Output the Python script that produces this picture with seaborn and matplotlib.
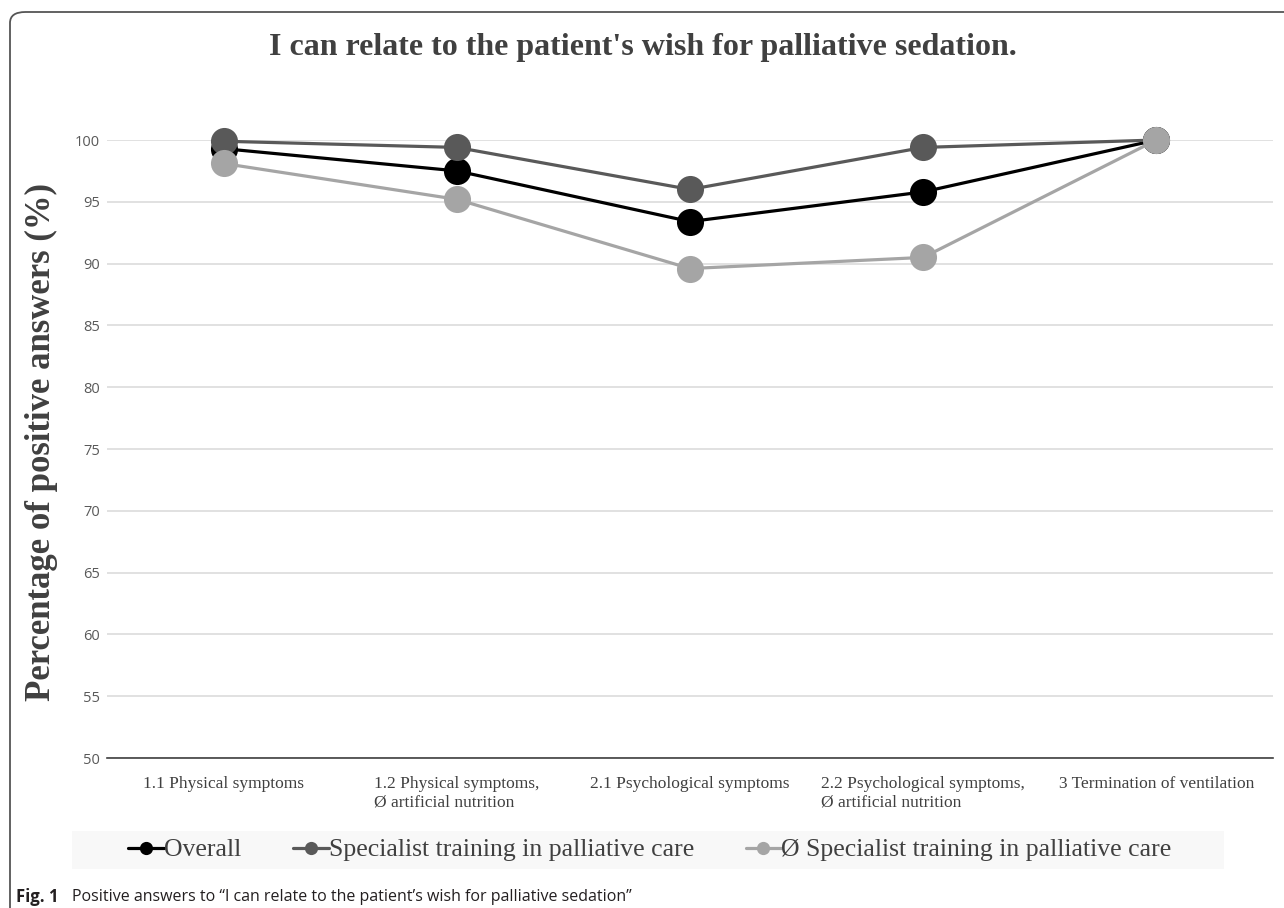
import matplotlib
matplotlib.use("Agg")
import matplotlib.pyplot as plt
import seaborn as sns
import pandas as pd
from matplotlib.lines import Line2D
from matplotlib.patches import Rectangle, FancyBboxPatch

categories = ["1.1 Physical symptoms",
              "1.2 Physical symptoms,\nØ artificial nutrition",
              "2.1 Psychological symptoms",
              "2.2 Psychological symptoms,\nØ artificial nutrition",
              "3 Termination of ventilation"]
overall = [99.3, 97.5, 93.4, 95.8, 100.0]
specialist = [99.9, 99.4, 96.0, 99.4, 100.0]
non_specialist = [98.1, 95.2, 89.6, 90.5, 100.0]
series_names = ["Overall", "Specialist training in palliative care",
                "Ø Specialist training in palliative care"]
series_colors = ["#000000", "#595959", "#a5a5a5"]
yticks = [50, 55, 60, 65, 70, 75, 80, 85, 90, 95, 100]

rows = []
for name, vals in zip(series_names, [overall, specialist, non_specialist]):
    for c, v in zip(categories, vals):
        rows.append({"category": c, "value": v, "series": name})
df = pd.DataFrame(rows)

sns.set_theme(style="white")
W, H = 1284, 908
fig = plt.figure(figsize=(W / 100, H / 100), dpi=100)
ax = fig.add_axes([107 / W, 1 - 758 / H, (1273 - 107) / W, (758 - 140) / H])

sns.lineplot(data=df, x="category", y="value", hue="series",
             hue_order=series_names, palette=series_colors, sort=False,
             marker="o", markersize=19.5, markeredgewidth=0, linewidth=2.3,
             legend=False, ax=ax, clip_on=False)

ax.set_xlim(-0.5, len(categories) - 0.5)
ax.set_ylim(50, 100)
ax.set_yticks(yticks)
ax.yaxis.grid(True, color="#d9d9d9", linewidth=1.1)
ax.xaxis.grid(False)
for s in ["top", "right", "left"]:
    ax.spines[s].set_visible(False)
ax.spines["bottom"].set_color("#404040")
ax.spines["bottom"].set_linewidth(1.2)
ax.set_xlabel("")
ax.set_ylabel("Percentage of positive answers (%)", family="Liberation Serif",
              fontweight="bold", fontsize=25, color="#404040")
ax.yaxis.set_label_coords((58 - 107) / (1273 - 107), (758 - 442) / (758 - 140))
ax.tick_params(axis="y", length=0, pad=5, labelsize=10.5, labelcolor="#595959")
for lab in ax.get_yticklabels():
    lab.set_family("Open Sans")
ax.set_xticks(range(len(categories)))
ax.set_xticklabels(categories, family="Liberation Serif", fontsize=12.5,
                   color="#404040", multialignment="left")
ax.tick_params(axis="x", which="major", length=0, pad=13)
ax.set_xticks([i - 0.5 for i in range(len(categories) + 1)], minor=True)
ax.tick_params(axis="x", which="minor", length=6, width=1.1, color="#404040",
               direction="out")
for lab in ax.get_xticklabels():
    lab.set_verticalalignment("top")

fig.text(643 / W, 1 - 48 / H, "I can relate to the patient's wish for palliative sedation.",
         family="Liberation Serif", fontweight="bold", fontsize=23,
         color="#404040", ha="center", va="center")

# legend background
fig.add_artist(Rectangle((72 / W, 1 - 869 / H), (1224 - 72) / W, 38 / H,
                         transform=fig.transFigure, facecolor="#f8f8f8",
                         edgecolor="none", zorder=0))
handles = [Line2D([], [], color=c, linewidth=2.3, marker="o", markersize=9.5,
                  markeredgewidth=0) for c in series_colors]
leg = fig.legend(handles, series_names, loc="center",
                 bbox_to_anchor=(650 / W, 1 - 850 / H), ncol=3, frameon=False,
                 handlelength=1.4, handletextpad=0.0, columnspacing=2.0,
                 prop={"family": "Liberation Serif", "size": 18.5})
for t in leg.get_texts():
    t.set_color("#404040")

# outer rounded border (open at right and bottom)
fig.add_artist(FancyBboxPatch((10 / W, -0.05), 1.2, 1 - 12 / H + 0.05,
                              boxstyle="round,pad=0,rounding_size=0.012",
                              transform=fig.transFigure, facecolor="none",
                              edgecolor="#555555", linewidth=1.3, clip_on=False))

fig.text(16 / W, 1 - 897 / H, "Fig. 1", family="Open Sans", fontweight="bold",
         fontsize=12, color="#231f20", ha="left", va="center")
fig.text(72 / W, 1 - 897 / H,
         "Positive answers to \u201cI can relate to the patient\u2019s wish for palliative sedation\u201d",
         family="Open Sans", fontsize=11.5, color="#231f20", ha="left", va="center")

fig.savefig("out.png", dpi=100)
